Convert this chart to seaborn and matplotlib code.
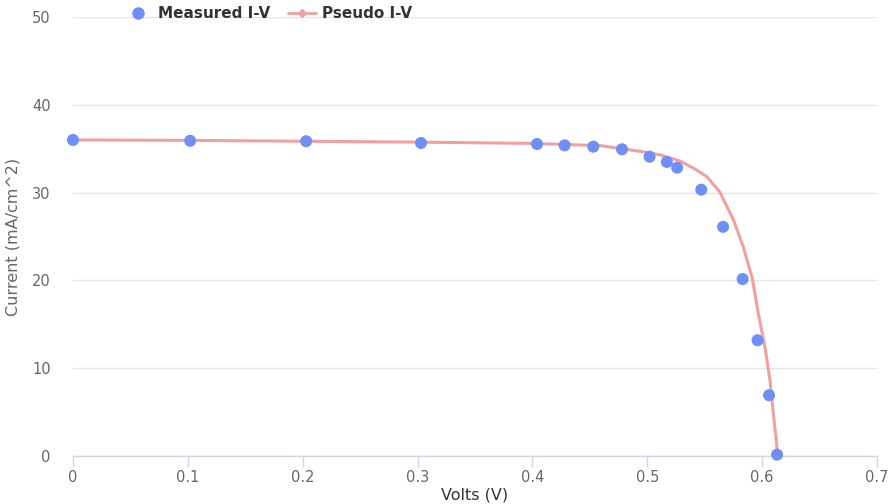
import numpy as np
import pandas as pd
import matplotlib
matplotlib.use('Agg')
import matplotlib.pyplot as plt
import seaborn as sns
from matplotlib.lines import Line2D

# --- data ---
measured_v = [0.0, 0.102, 0.203, 0.303, 0.404, 0.428, 0.453, 0.478, 0.502,
              0.517, 0.526, 0.547, 0.566, 0.583, 0.596, 0.606, 0.613]
measured_i = [36.0, 35.9, 35.85, 35.65, 35.53, 35.38, 35.23, 34.93, 34.09,
              33.49, 32.84, 30.33, 26.10, 20.16, 13.18, 6.92, 0.15]

pseudo_v = [0.0, 0.1, 0.2, 0.3, 0.4, 0.459, 0.494, 0.511, 0.5285, 0.540,
            0.552, 0.563, 0.575, 0.5836, 0.5915, 0.5966, 0.6024, 0.6068,
            0.6097, 0.6126, 0.6134]
pseudo_i = [36.0, 35.95, 35.85, 35.75, 35.6, 35.35, 34.7, 34.3, 33.6, 32.8,
            31.8, 30.1, 26.9, 23.8, 20.2, 16.25, 12.45, 8.66,
            4.86, 1.45, 0.0]

x_ticks = [0, 0.1, 0.2, 0.3, 0.4, 0.5, 0.6, 0.7]
x_tick_labels = ['0', '0.1', '0.2', '0.3', '0.4', '0.5', '0.6', '0.7']
y_ticks = [0, 10, 20, 30, 40, 50]

BLUE = '#6e8ff7'
RED = '#f0a0a0'

sns.set_style('white')
plt.rcParams['font.family'] = ['DejaVu Sans']

fig = plt.figure(figsize=(8.91, 5.04), dpi=100)
ax = fig.add_axes([73 / 891, 48 / 504, 804 / 891, 439 / 504])

df_m = pd.DataFrame({'V': measured_v, 'I': measured_i})
df_p = pd.DataFrame({'V': pseudo_v, 'I': pseudo_i})

sns.lineplot(data=df_p, x='V', y='I', ax=ax, color=RED, linewidth=2.2,
             sort=False, estimator=None, zorder=3)
sns.scatterplot(data=df_m, x='V', y='I', ax=ax, color=BLUE, s=75,
                edgecolor='none', zorder=4, clip_on=False)

ax.set_xlim(0, 0.7)
ax.set_ylim(0, 50)
ax.set_xticks(x_ticks)
ax.set_xticklabels(x_tick_labels)
ax.set_yticks(y_ticks)

ax.yaxis.grid(True, color='#e6e6e6', linewidth=1.0)
ax.set_axisbelow(True)
for s in ['top', 'right', 'left']:
    ax.spines[s].set_visible(False)
ax.spines['bottom'].set_color('#ccd6eb')
ax.spines['bottom'].set_linewidth(1.0)

ax.tick_params(axis='x', bottom=True, colors='#666666', labelsize=10.5,
               length=8, width=1, color='#ccd6eb', pad=2, direction='out')
ax.tick_params(axis='y', left=False, colors='#666666', labelsize=10.5,
               length=0, pad=16)

ax.set_xlabel('Volts (V)', fontsize=11.5, color='#333333', labelpad=2)
ax.set_ylabel('Current (mA/cm^2)', fontsize=11.5, color='#666666', labelpad=8)

handles = [
    Line2D([], [], marker='o', color='none', markerfacecolor=BLUE,
           markeredgecolor='none', markersize=9),
    Line2D([], [], marker='D', color=RED, markerfacecolor=RED,
           markeredgecolor='none', markersize=5, linewidth=2),
]
fig.legend(handles, ['Measured I-V', 'Pseudo I-V'], loc='center',
           bbox_to_anchor=(268 / 891, 1 - 14 / 504), ncol=2, frameon=False,
           prop={'weight': 'bold', 'size': 11}, labelcolor='#333333',
           handlelength=1.8, columnspacing=1.2, handletextpad=0.4)

fig.savefig('out.png', dpi=100)
